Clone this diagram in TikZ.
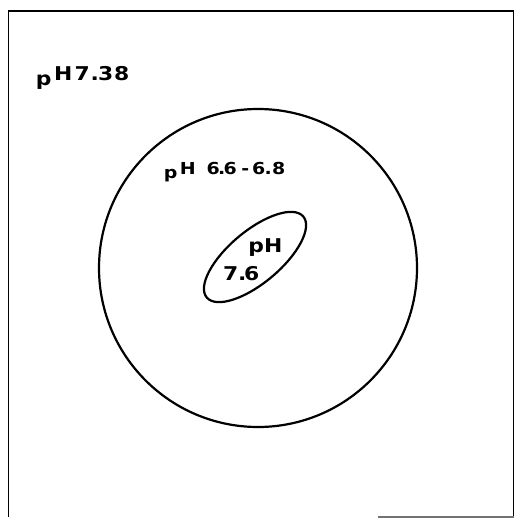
\documentclass[tikz,border=0pt]{standalone}
\usepackage{fontspec}
\setmainfont{DejaVu Sans}[BoldFont={DejaVu Sans Bold}]
% place a glyph centred at a given offset from the label origin, widened like stencil lettering
\newcommand{\gl}[2]{\rlap{\hspace*{#1pt}\makebox[0pt]{\scalebox{1.15}[1]{#2}}}}
\newcommand{\lowp}[2]{\gl{#1}{\raisebox{-#2pt}{p}}}
\tikzset{
  lab/.style={anchor=base west, inner sep=0pt, font=\fontsize{19}{22}\bfseries},
  smalllab/.style={lab, font=\fontsize{16.5}{20}\bfseries},
  outline/.style={draw=black, line width=2.2pt},
}
\begin{document}
\begin{tikzpicture}[x=1pt,y=-1pt]
\useasboundingbox (0,0) rectangle (516,518);
% frame
\coordinate (bl) at (8.5,517);
\coordinate (tl) at (8.5,11);
\coordinate (tr) at (513.5,11);
\coordinate (br) at (513.5,517);
\coordinate (bm) at (378,517);
\draw[draw=black, line width=1.8pt] (bl) -- (tl) -- (tr) -- (br);
\draw[draw=black!55, line width=1.2pt] (bm) -- (br);
% circle
\node[outline, circle, minimum size=318pt, inner sep=0pt] (cell) at (258,268) {};
% inner vacuole
\draw[outline] (255,257) ellipse [x radius=63, y radius=26, rotate=40];
% labels
\node[lab] (out) at (37,80.5) {\lowp{6}{5}\gl{25.5}{H}\gl{44.5}{7}\gl{57}{.}\gl{68}{3}\gl{84}{8}};
\node[smalllab] (cyt) at (165,175) {\lowp{5}{4}\gl{22}{H}\gl{47.5}{6}\gl{56}{.}\gl{64.5}{6}\gl{79.5}{-}\gl{93}{6}\gl{102.5}{.}\gl{113}{8}};
\node[lab] (inph) at (248,252) {\lowp{7.5}{0.5}\gl{24.5}{H}};
\node[lab] (inval) at (222,280) {\gl{8}{7}\gl{19.5}{.}\gl{29}{6}};
\end{tikzpicture}
\end{document}
